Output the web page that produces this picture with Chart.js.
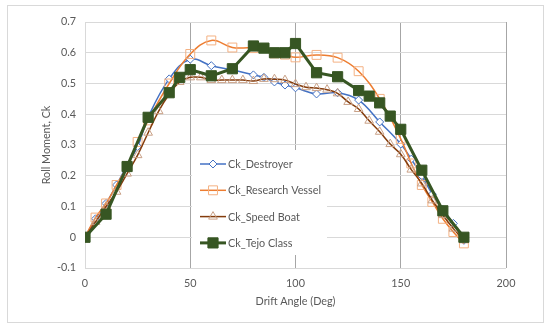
<!DOCTYPE html>
<html>
<head>
<meta charset="utf-8">
<script src="https://cdn.jsdelivr.net/npm/chart.js@4"></script>
<style>
  body { margin: 0; background: #fff; }
  #wrap { width: 550px; height: 330px; }
</style>
</head>
<body>
<div id="wrap"><canvas id="rollChart" width="550" height="330"></canvas></div>
<script>
// drift angle (deg) and roll moment Ck
const destroyerX = [0, 5, 10, 15, 20, 25, 30, 40, 50, 60, 70, 80, 85, 90, 95, 100, 110, 120, 130, 140, 150, 155, 160, 165, 170, 175, 180];
const destroyerCk = [0, 0.06, 0.11, 0.17, 0.235, 0.295, 0.39, 0.515, 0.579, 0.558, 0.544, 0.528, 0.52, 0.505, 0.495, 0.486, 0.466, 0.47, 0.446, 0.375, 0.303, 0.254, 0.2, 0.14, 0.09, 0.045, -0.01];

const vesselX = [0, 5, 10, 15, 20, 25, 30, 40, 50, 60, 70, 80, 90, 95, 100, 110, 120, 130, 140, 150, 155, 160, 165, 170, 175, 180];
const vesselCk = [0, 0.064, 0.11, 0.17, 0.23, 0.31, 0.38, 0.5, 0.596, 0.64, 0.617, 0.615, 0.598, 0.594, 0.585, 0.593, 0.584, 0.54, 0.45, 0.32, 0.24, 0.17, 0.115, 0.06, 0.017, -0.02];

const speedX = [0, 5, 10, 15, 20, 25, 30, 35, 40, 45, 50, 55, 60, 65, 70, 75, 80, 85, 90, 95, 100, 105, 110, 115, 120, 125, 130, 135, 140, 145, 150, 155, 160, 165, 170, 175, 180];
const speedCk = [0, 0.05, 0.1, 0.148, 0.207, 0.267, 0.34, 0.41, 0.465, 0.505, 0.52, 0.52, 0.511, 0.511, 0.511, 0.511, 0.508, 0.515, 0.514, 0.511, 0.498, 0.488, 0.485, 0.48, 0.468, 0.44, 0.417, 0.379, 0.343, 0.303, 0.27, 0.22, 0.175, 0.12, 0.072, 0.028, -0.01];

const tejoX = [0, 10, 20, 30, 40, 45, 50, 60, 70, 80, 85, 90, 95, 100, 110, 120, 130, 135, 140, 145, 150, 160, 170, 180];
const tejoCk = [0, 0.075, 0.23, 0.39, 0.47, 0.52, 0.545, 0.525, 0.548, 0.622, 0.615, 0.6, 0.6, 0.63, 0.535, 0.522, 0.477, 0.459, 0.437, 0.394, 0.351, 0.218, 0.086, 0];

const xTicks = [0, 50, 100, 150, 200];
const yTicks = [-0.1, 0, 0.1, 0.2, 0.3, 0.4, 0.5, 0.6, 0.7];

const FONT = "Lato, 'Liberation Sans', sans-serif";
const FSIZE = 10.8;
const TXT = "#595959";

function pts(xs, ys) {
  return xs.map((x, i) => ({ x: x, y: ys[i] }));
}

// chart border like the excel chart frame
const frame = {
  id: "frame",
  beforeDraw(chart) {
    const ctx = chart.ctx;
    ctx.save();
    ctx.fillStyle = "#fff";
    ctx.fillRect(0, 0, chart.width, chart.height);
    ctx.strokeStyle = "#d9d9d9";
    ctx.lineWidth = 1;
    ctx.strokeRect(7.5, 5.5, 536, 317);
    ctx.restore();
  }
};

// legend box sitting inside the plot
const boxLegend = {
  id: "boxLegend",
  afterDraw(chart) {
    const ctx = chart.ctx;
    const x0 = 192, y0 = 150, w = 135, h = 105;
    ctx.save();
    ctx.fillStyle = "#fff";
    ctx.fillRect(x0, y0, w, h);
    chart.data.datasets.forEach((ds, i) => {
      const cy = 164 + i * 26.3;
      ctx.strokeStyle = ds.borderColor;
      ctx.lineWidth = ds.borderWidth;
      ctx.beginPath();
      ctx.moveTo(200, cy);
      ctx.lineTo(226, cy);
      ctx.stroke();
      ctx.fillStyle = ds.pointBackgroundColor;
      ctx.strokeStyle = ds.pointBorderColor;
      ctx.lineWidth = ds.pointBorderWidth;
      Chart.helpers.drawPoint(ctx, {
        pointStyle: ds.pointStyle,
        radius: ds.pointRadius,
        borderWidth: ds.pointBorderWidth
      }, 213, cy);
      ctx.fillStyle = TXT;
      ctx.font = FSIZE + "px " + FONT;
      ctx.textBaseline = "middle";
      ctx.fillText(ds.label, 228, cy + 0.5);
    });
    ctx.restore();
  }
};

const chart = new Chart(document.getElementById("rollChart"), {
  type: "line",
  data: {
    datasets: [
      {
        label: "Ck_Destroyer",
        data: pts(destroyerX, destroyerCk),
        borderColor: "#4472c4",
        borderWidth: 1.5,
        tension: 0.4,
        pointStyle: "rectRot",
        pointRadius: 4,
        pointBorderWidth: 1,
        pointBorderColor: "#4472c4",
        pointBackgroundColor: "#fff",
        order: 3
      },
      {
        label: "Ck_Research Vessel",
        data: pts(vesselX, vesselCk),
        borderColor: "#ed7d31",
        borderWidth: 1.5,
        tension: 0.4,
        pointStyle: "rect",
        pointRadius: 6.3,
        pointBorderWidth: 1,
        pointBorderColor: "#f4b183",
        pointBackgroundColor: "rgba(255,255,255,0)",
        order: 2
      },
      {
        label: "Ck_Speed Boat",
        data: pts(speedX, speedCk),
        borderColor: "#843c0c",
        borderWidth: 1.5,
        tension: 0.4,
        pointStyle: "triangle",
        pointRadius: 5,
        pointBorderWidth: 1,
        pointBorderColor: "#c9a086",
        pointBackgroundColor: "rgba(255,255,255,0)",
        order: 1
      },
      {
        label: "Ck_Tejo Class",
        data: pts(tejoX, tejoCk),
        borderColor: "#375623",
        borderWidth: 3,
        tension: 0,
        pointStyle: "rect",
        pointRadius: 7.2,
        pointBorderWidth: 1,
        pointBorderColor: "#375623",
        pointBackgroundColor: "#375623",
        order: 0
      }
    ]
  },
  options: {
    responsive: false,
    animation: false,
    layout: { padding: { left: 0, right: 44, top: 22, bottom: 0 } },
    plugins: {
      legend: { display: false },
      tooltip: { enabled: false }
    },
    scales: {
      x: {
        type: "linear",
        min: 0,
        max: 200,
        afterBuildTicks: (s) => { s.ticks = xTicks.map(v => ({ value: v })); },
        afterFit: (s) => { s.height = 62; },
        grid: {
          drawTicks: false,
          color: (c) => (c.tick && c.tick.value === 0 ? "#d9d9d9" : "#a6a6a6"),
          lineWidth: 1
        },
        border: { display: false },
        ticks: { color: TXT, padding: 9, font: { family: FONT, size: FSIZE } },
        title: {
          display: true,
          text: "Drift Angle (Deg)",
          color: TXT,
          font: { family: FONT, size: FSIZE },
          padding: { top: 0, bottom: 22 }
        }
      },
      y: {
        min: -0.1,
        max: 0.7,
        afterBuildTicks: (s) => { s.ticks = yTicks.map(v => ({ value: v })); },
        afterFit: (s) => { s.width = 85; },
        grid: { drawTicks: false, color: "#d9d9d9", lineWidth: 1 },
        border: { display: false },
        ticks: {
          color: TXT,
          padding: 9,
          font: { family: FONT, size: FSIZE },
          callback: (v) => String(Math.round(v * 10) / 10)
        },
        title: {
          display: true,
          text: "Roll Moment, Ck",
          color: TXT,
          font: { family: FONT, size: FSIZE },
          padding: { top: 40, bottom: 0 }
        }
      }
    }
  },
  plugins: [frame, boxLegend]
});
</script>
</body>
</html>
